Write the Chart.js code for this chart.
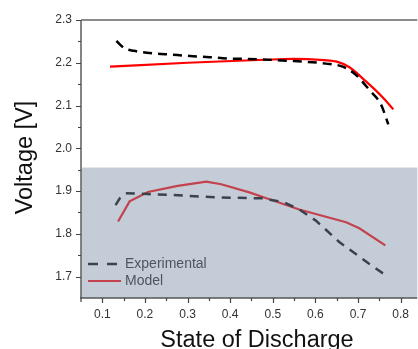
<!DOCTYPE html>
<html>
<head>
<meta charset="utf-8">
<script src="https://cdn.jsdelivr.net/npm/chart.js@4"></script>
<style>
  html, body { margin: 0; padding: 0; background: #fff; }
  #wrap { width: 418px; height: 349px; position: relative; }
</style>
</head>
<body>
<div id="wrap"><canvas id="grafico"></canvas></div>
<script>
// Data
const expUpperX = [0.133, 0.152, 0.174, 0.219, 0.262, 0.305, 0.352, 0.394, 0.441, 0.531, 0.625, 0.664, 0.695, 0.726, 0.754, 0.771];
const expUpperY = [2.251, 2.234, 2.228, 2.222, 2.219, 2.216, 2.213, 2.210, 2.209, 2.205, 2.198, 2.191, 2.172, 2.137, 2.102, 2.056];
const modUpperX = [0.118, 0.300, 0.480, 0.547, 0.620, 0.652, 0.679, 0.718, 0.757, 0.783];
const modUpperY = [2.191, 2.200, 2.207, 2.209, 2.206, 2.202, 2.190, 2.157, 2.120, 2.091];
const expLowerX = [0.131, 0.141, 0.155, 0.207, 0.262, 0.316, 0.379, 0.473, 0.523, 0.562, 0.601, 0.656, 0.726, 0.771];
const expLowerY = [1.867, 1.883, 1.895, 1.893, 1.891, 1.888, 1.885, 1.883, 1.875, 1.857, 1.831, 1.781, 1.730, 1.699];
const modLowerX = [0.137, 0.164, 0.207, 0.277, 0.344, 0.379, 0.445, 0.480, 0.562, 0.672, 0.703, 0.764];
const modLowerY = [1.829, 1.876, 1.898, 1.912, 1.922, 1.916, 1.897, 1.885, 1.857, 1.827, 1.813, 1.773];

const xTicks = [0.1, 0.2, 0.3, 0.4, 0.5, 0.6, 0.7, 0.8];
const xMinorTicks = [0.15, 0.25, 0.35, 0.45, 0.55, 0.65, 0.75];
const yTicks = [1.7, 1.8, 1.9, 2.0, 2.1, 2.2, 2.3];
const yMinorTicks = [1.75, 1.85, 1.95, 2.05, 2.15, 2.25];
const legendLabels = ['Experimental', 'Model'];
const xTitle = 'State of Discharge';
const yTitle = 'Voltage [V]';
const shadeFrom = 1.955;

const FONT = "'Liberation Sans', Arial, sans-serif";
const pts = (xs, ys) => xs.map((x, i) => ({ x, y: ys[i] }));

// Axes, minor ticks, shaded band, legend and titles
const extras = {
  id: 'extras',
  afterDatasetsDraw(chart) {
    const { ctx, chartArea: a, scales: { y } } = chart;
    ctx.save();
    // legend (sits under the band)
    ctx.font = '14px ' + FONT;
    ctx.textBaseline = 'middle';
    ctx.fillStyle = '#222';
    ctx.lineWidth = 2.5;
    ctx.strokeStyle = '#000';
    ctx.setLineDash([10, 9]);
    ctx.beginPath(); ctx.moveTo(88, 264); ctx.lineTo(118, 264); ctx.stroke();
    ctx.setLineDash([]);
    ctx.strokeStyle = '#ff0000';
    ctx.lineWidth = 2;
    ctx.beginPath(); ctx.moveTo(88, 281); ctx.lineTo(121, 281); ctx.stroke();
    ctx.fillText(legendLabels[0], 125, 264);
    ctx.fillText(legendLabels[1], 125, 281);
    // shaded band
    const top = y.getPixelForValue(shadeFrom);
    ctx.fillStyle = 'rgba(125,143,167,0.46)';
    ctx.fillRect(a.left, top, a.right - a.left, a.bottom - top);
    ctx.restore();
  },
  afterDraw(chart) {
    const { ctx, chartArea: a, scales: { x, y } } = chart;
    ctx.save();
    ctx.strokeStyle = '#666';
    ctx.lineWidth = 1.6;
    ctx.beginPath();
    ctx.moveTo(a.left, a.top); ctx.lineTo(a.right, a.top);
    ctx.moveTo(a.left, a.top); ctx.lineTo(a.left, a.bottom);
    ctx.stroke();
    ctx.strokeStyle = '#555';
    ctx.beginPath();
    ctx.moveTo(a.left - 1, a.bottom); ctx.lineTo(a.right, a.bottom);
    ctx.stroke();
    ctx.lineWidth = 1.2;
    ctx.strokeStyle = '#444';
    ctx.beginPath();
    yTicks.forEach(v => { const p = Math.round(y.getPixelForValue(v)) + 0.5; ctx.moveTo(a.left - 5, p); ctx.lineTo(a.left, p); });
    yMinorTicks.forEach(v => { const p = Math.round(y.getPixelForValue(v)) + 0.5; ctx.moveTo(a.left - 3, p); ctx.lineTo(a.left, p); });
    xTicks.forEach(v => { const p = Math.round(x.getPixelForValue(v)) + 0.5; ctx.moveTo(p, a.bottom); ctx.lineTo(p, a.bottom + 5); });
    xMinorTicks.forEach(v => { const p = Math.round(x.getPixelForValue(v)) + 0.5; ctx.moveTo(p, a.bottom); ctx.lineTo(p, a.bottom + 3); });
    ctx.moveTo(a.left, a.bottom); ctx.lineTo(a.left, a.bottom + 4);
    ctx.stroke();
    // titles
    ctx.fillStyle = '#111';
    ctx.font = '23.5px ' + FONT;
    ctx.textAlign = 'center';
    ctx.textBaseline = 'alphabetic';
    ctx.fillText(xTitle, 257, 347);
    ctx.translate(32, 157.5);
    ctx.rotate(-Math.PI / 2);
    ctx.fillText(yTitle, 0, 0);
    ctx.restore();
  }
};

const ctx = document.getElementById('grafico').getContext('2d');
const grafico = new Chart(ctx, {
  type: 'line',
  data: {
    datasets: [
      { data: pts(expUpperX, expUpperY), borderColor: '#000', borderWidth: 2.5, borderDash: [9, 6], cubicInterpolationMode: 'monotone' },
      { data: pts(modUpperX, modUpperY), borderColor: '#ff0000', borderWidth: 2.2, cubicInterpolationMode: 'monotone' },
      { data: pts(expLowerX, expLowerY), borderColor: '#000', borderWidth: 2.5, borderDash: [9, 7] },
      { data: pts(modLowerX, modLowerY), borderColor: '#ff0000', borderWidth: 2.2 }
    ]
  },
  options: {
    responsive: true,
    maintainAspectRatio: false,
    animation: false,
    layout: { padding: { top: 20, left: 0, right: 0, bottom: 0 } },
    elements: { point: { radius: 0 } },
    plugins: { legend: { display: false }, tooltip: { enabled: false } },
    scales: {
      x: {
        type: 'linear', min: 0.05, max: 0.839,
        afterBuildTicks: s => { s.ticks = xTicks.map(v => ({ value: v })); },
        afterFit: s => { s.height = 51; },
        grid: { display: false, drawTicks: false },
        border: { display: false },
        ticks: { padding: 9, color: '#333', font: { family: FONT, size: 12 }, maxRotation: 0, callback: v => v.toFixed(1) }
      },
      y: {
        type: 'linear', min: 1.65, max: 2.3,
        afterBuildTicks: s => { s.ticks = yTicks.map(v => ({ value: v })); },
        afterFit: s => { s.width = 81; },
        grid: { display: false, drawTicks: false },
        border: { display: false },
        ticks: { padding: 9, color: '#333', font: { family: FONT, size: 12 }, callback: v => v.toFixed(1) }
      }
    }
  },
  plugins: [extras]
});
</script>
</body>
</html>
